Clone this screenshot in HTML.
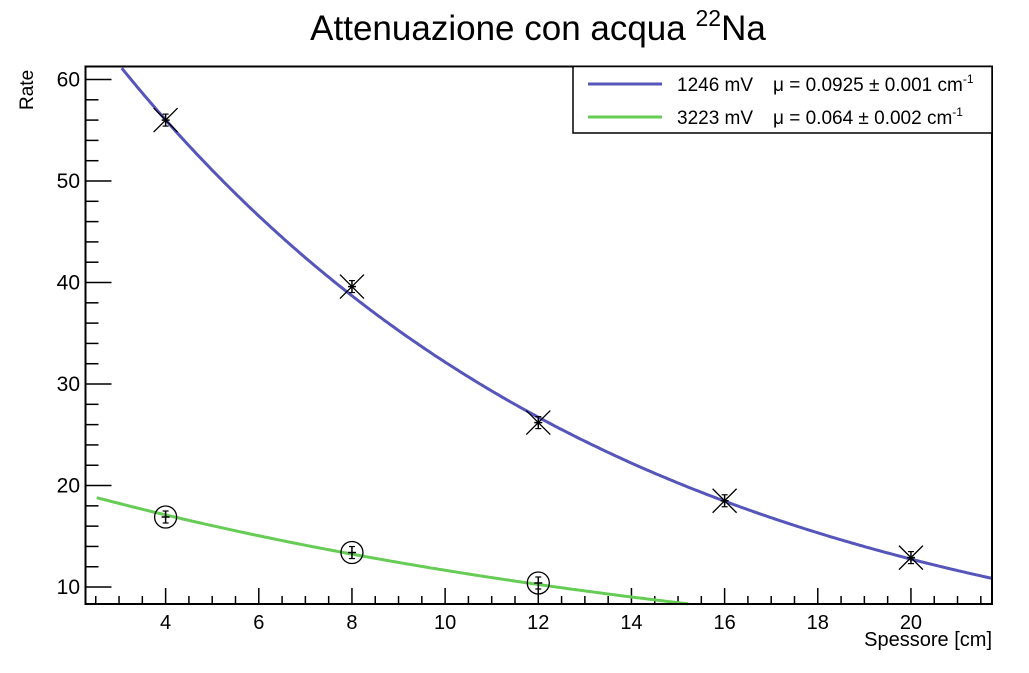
<!DOCTYPE html>
<html><head><meta charset="utf-8"><style>
body{margin:0;background:#fff;}
svg text{font-family:"Liberation Sans",Arial,sans-serif;}
</style></head><body>
<svg id="chart" width="1029" height="668" viewBox="0 0 1029 668" xmlns="http://www.w3.org/2000/svg">
<text x="538" y="40" font-size="35" text-anchor="middle">Attenuazione con acqua <tspan font-size="23" dy="-14">22</tspan><tspan dy="14">Na</tspan></text>
<g id="grid"></g>
<g id="curves"></g>
<g id="points"></g>
<rect x="85.5" y="66.5" width="906.5" height="537.5" fill="none" stroke="#000" stroke-width="2"/>
<text x="992" y="646" font-size="20" text-anchor="end">Spessore [cm]</text>
<text transform="translate(33,110) rotate(-90)" font-size="19" text-anchor="start">Rate</text>
<g>
<rect x="573" y="66.5" width="419" height="66.5" fill="#fff" stroke="#000" stroke-width="1.5"/>
<line x1="588" y1="84" x2="662" y2="84" stroke="#5555bb" stroke-width="3"/>
<text x="677" y="91" font-size="19">1246 mV<tspan x="773">μ = 0.0925 ± 0.001 cm</tspan><tspan font-size="12" dy="-8">-1</tspan></text>
<line x1="588" y1="117" x2="662" y2="117" stroke="#66cc55" stroke-width="3"/>
<text x="677" y="124" font-size="19">3223 mV<tspan x="773">μ = 0.064 ± 0.002 cm</tspan><tspan font-size="12" dy="-8">-1</tspan></text>
</g>
</svg>
<script>
const xTicks=[4,6,8,10,12,14,16,18,20];
const yTicks=[10,20,30,40,50,60];
const blueX=[4,8,12,16,20];
const blueY=[56,39.6,26.2,18.5,12.9];
const greenX=[4,8,12];
const greenY=[16.9,13.4,10.4];
const blueA=81.1, blueMu=0.0925;
const greenA=22.1, greenMu=0.064;
const X0=2.28,X1=21.74,Y0=8.33,Y1=61.28;
const L=85.5,R=992,T=66.5,B=604;
function sx(v){return L+(v-X0)/(X1-X0)*(R-L);}
function sy(v){return B-(v-Y0)/(Y1-Y0)*(B-T);}
const NS="http://www.w3.org/2000/svg";
function mk(tag,attrs,parent){const e=document.createElementNS(NS,tag);for(const k in attrs)e.setAttribute(k,attrs[k]);parent.appendChild(e);return e;}
const grid=document.getElementById('grid');
for(let v=2.5;v<=X1;v+=0.5){const x=sx(v);const major=Math.abs(v/2-Math.round(v/2))<1e-6;
const t=mk('line',{x1:x,x2:x,y1:B,y2:B-(major?16:8),stroke:'#000','stroke-width':1.5},grid);

}
xTicks.forEach(v=>{const t=mk('text',{x:sx(v),y:629,'font-size':20,'text-anchor':'middle'},grid);t.textContent=v;

});
for(let v=10;v<=Y1;v+=2){const y=sy(v);const major=v%10===0;
const t=mk('line',{x1:L,x2:L+(major?26:13),y1:y,y2:y,stroke:'#000','stroke-width':1.5},grid);

}
yTicks.forEach(v=>{const t=mk('text',{x:80,y:sy(v)+7,'font-size':21,'text-anchor':'end'},grid);t.textContent=v;

});
const curves=document.getElementById('curves');
function curve(A,mu,color,name){let pts=[];for(let i=0;i<=400;i++){const x=X0+(X1-X0)*i/400;const y=A*Math.exp(-mu*x);if(y>Y1||y<Y0)continue;if(x<2.5)continue;pts.push(sx(x).toFixed(1)+','+sy(y).toFixed(1));}
const p=mk('polyline',{points:pts.join(' '),fill:'none',stroke:color,'stroke-width':3},curves);

}
curve(blueA,blueMu,'#5555bb','fit-curve-1246');
curve(greenA,greenMu,'#66cc55','fit-curve-3223');
const pg=document.getElementById('points');
function errbar(x,y){mk('line',{x1:x,x2:x,y1:y-6,y2:y+6,stroke:'#000','stroke-width':1.5},pg);mk('line',{x1:x-3,x2:x+3,y1:y-6,y2:y-6,stroke:'#000','stroke-width':1.2},pg);mk('line',{x1:x-3,x2:x+3,y1:y+6,y2:y+6,stroke:'#000','stroke-width':1.2},pg);mk('line',{x1:x-4,x2:x+4,y1:y,y2:y,stroke:'#000','stroke-width':1.5},pg);}
blueX.forEach((v,i)=>{const x=sx(v),y=sy(blueY[i]);
const g=mk('path',{d:`M${x-12},${y-12}L${x+12},${y+12}M${x-12},${y+12}L${x+12},${y-12}`,stroke:'#000','stroke-width':1.3,fill:'none'},pg);


errbar(x,y);});
greenX.forEach((v,i)=>{const x=sx(v),y=sy(greenY[i]);
const g=mk('circle',{cx:x,cy:y,r:11,stroke:'#000','stroke-width':1.3,fill:'none'},pg);


errbar(x,y);});
</script>
</body></html>
